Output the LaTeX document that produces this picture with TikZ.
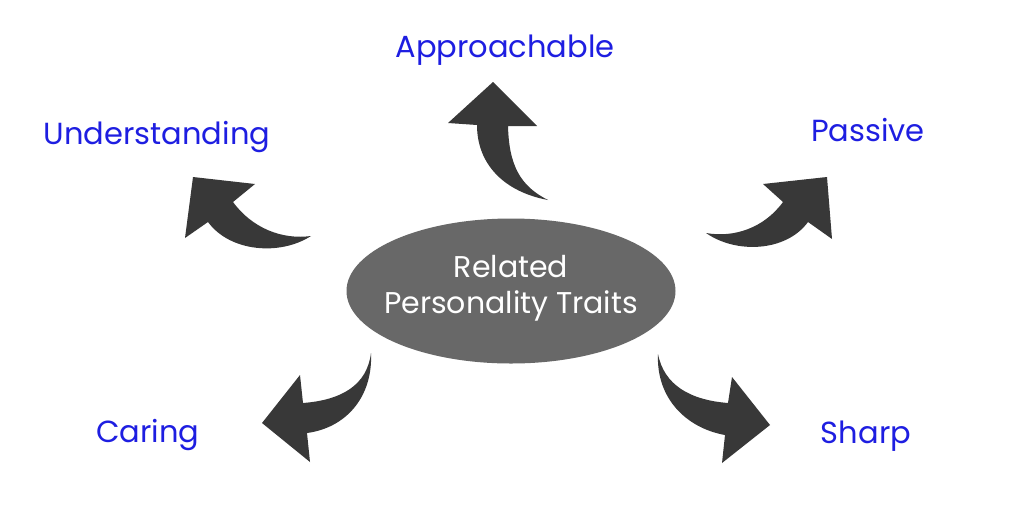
\documentclass[tikz,border=0pt]{standalone}
\usepackage{fontspec}
\setmainfont{Poppins}
\definecolor{lbl}{RGB}{30,30,225}
\definecolor{arr}{RGB}{56,56,56}
\definecolor{ell}{RGB}{104,104,104}
\begin{document}
\begin{tikzpicture}[x=1pt,y=-1pt,
  lab/.style={text=lbl,font=\fontsize{30.5}{34}\selectfont,inner sep=0pt},
  bent/.style={fill=arr,draw=none}]
\useasboundingbox[fill=white] (0,0) rectangle (1024,512);
% center ellipse
\fill[ell] (511,291) ellipse [x radius=164.5, y radius=72.5];
\node[text=white,align=center,font=\fontsize{30}{36}\selectfont,inner sep=0pt] (c) at (511,288) {Related\\Personality Traits};
% labels
\node[lab] (ap) at (505,50) {Approachable};
\node[lab] (un) at (157,137) {Understanding};
\node[lab] (pa) at (868,130) {Passive};
\node[lab] (ca) at (148,435) {Caring};
\node[lab] (sh) at (866,436) {Sharp};
% top arrow
\fill[bent] (493,82) -- (537,126) -- (508,126)
  .. controls (509,165) and (520,186) .. (548,200)
  .. controls (505,192) and (477,165) .. (477,125)
  -- (448,123) -- cycle;
% upper-left arrow
\fill[bent] (193,177) -- (255,184) -- (233,202)
  .. controls (252,228) and (282,240) .. (311,236)
  .. controls (280,256) and (230,252) .. (208,222)
  -- (185,238) -- cycle;
% upper-right arrow
\fill[bent] (827,177) -- (763,184) -- (783,202)
  .. controls (764,228) and (734,238) .. (706,233)
  .. controls (736,254) and (786,252) .. (808,222)
  -- (832,239) -- cycle;
% lower-left arrow
\fill[bent] (371,353)
  .. controls (373,398) and (345,428) .. (307,433)
  -- (310,462) -- (262,423) -- (300,375) -- (303,403)
  .. controls (342,400) and (367,385) .. (371,353) -- cycle;
% lower-right arrow
\fill[bent] (658,354)
  .. controls (656,398) and (686,428) .. (725,435)
  -- (722,463) -- (770,425) -- (732,377) -- (728,403)
  .. controls (690,400) and (664,385) .. (658,354) -- cycle;
\end{tikzpicture}
\end{document}
